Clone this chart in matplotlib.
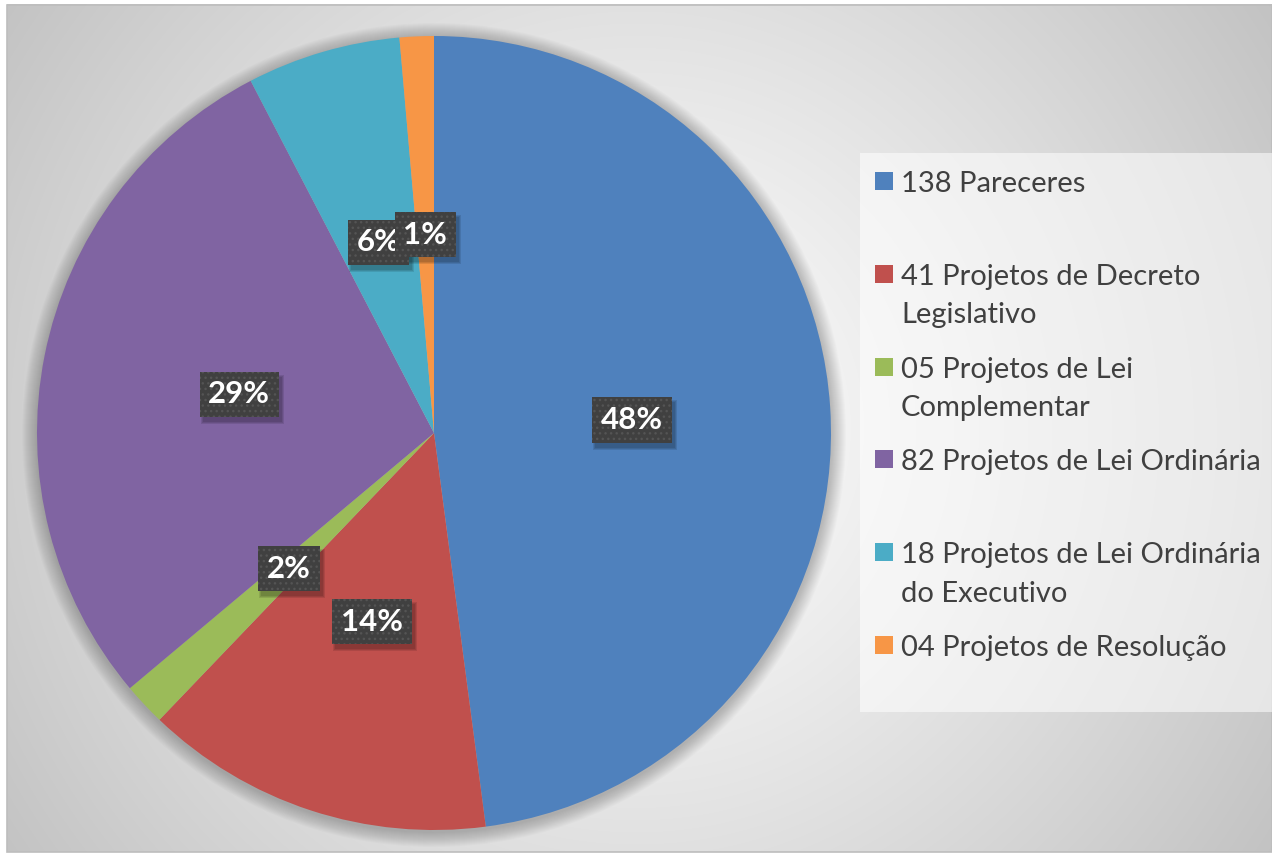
import numpy as np
import matplotlib
matplotlib.use("Agg")
import matplotlib.pyplot as plt
from matplotlib.patches import Rectangle, Circle

# ---- data ----
categories = ["138 Pareceres",
              "41 Projetos de Decreto\nLegislativo",
              "05 Projetos de Lei\nComplementar",
              "82 Projetos de Lei Ordinária",
              "18 Projetos de Lei Ordinária\ndo Executivo",
              "04 Projetos de Resolução"]
values = [138, 41, 5, 82, 18, 4]
pct_labels = ["48%", "14%", "2%", "29%", "6%", "1%"]
colors = ["#4F81BD", "#C0504D", "#9BBB59", "#8064A2", "#4BACC6", "#F79646"]

W, H = 1272, 855
fig = plt.figure(figsize=(W / 100, H / 100), dpi=100, facecolor="white")
ax = fig.add_axes([0, 0, 1, 1])
ax.set_xlim(0, W)
ax.set_ylim(0, H)

# ---- background radial gradient ----
x0, x1, y0, y1 = 7, W, 3, 850
yy, xx = np.mgrid[0:(y1 - y0), 0:(x1 - x0)]
cx, cy = 636 - x0, 428 - (H - y1)
r = np.hypot(xx - cx, yy - cy)
v = (255 - 60 * (r / 760.0) ** 1.15) / 255.0
v = np.clip(v, 0, 1)
img = np.dstack([v, v, v])
ax.imshow(img, extent=(x0, x1, y0, y1), origin="upper", zorder=0,
          interpolation="bilinear", aspect="auto")
ax.add_patch(Rectangle((x0, y0), x1 - x0, y1 - y0, fill=False,
                       ec="#bdbdbd", lw=1.2, zorder=1))

# ---- pie ----
center = (434, 422)
radius = 397
for k in range(1, 16):
    ax.add_patch(Circle((center[0], center[1] - 2), radius + k,
                        fc="black", ec="none", alpha=0.016, zorder=1.5))

it = iter(pct_labels)
wedges, texts, autotexts = ax.pie(
    values, colors=colors, startangle=90, counterclock=False,
    center=center, radius=radius, autopct=lambda p: next(it),
    pctdistance=0.5, wedgeprops=dict(linewidth=0, zorder=2),
    textprops=dict(color="white", fontsize=22.5, fontweight="bold",
                   family="Lato"))

for t in autotexts:
    t.set_zorder(6)
    t.set_ha("center")
    t.set_va("center")
    t.set_bbox(dict(boxstyle="square,pad=0.28", fc="#404040",
                    ec="#545454", lw=0, hatch="..."))

ax.set_xlim(0, W)
ax.set_ylim(0, H)
ax.set_aspect("auto")
ax.axis("off")

# shadows under the label boxes (patches, sized from the drawn boxes)
fig.canvas.draw()
inv = ax.transData.inverted()
for t in autotexts:
    bb = t.get_bbox_patch().get_window_extent()
    (dx0, dy0), (dx1, dy1) = inv.transform([(bb.x0, bb.y0), (bb.x1, bb.y1)])
    for k, a in enumerate([0.10, 0.10, 0.10]):
        ax.add_patch(Rectangle((dx0 + 3 - k, dy0 - 5 - k),
                               (dx1 - dx0) + 2 * k, (dy1 - dy0) + 2 * k,
                               fc="black", ec="none", alpha=a, zorder=5))

# ---- legend (manual, Office style slots) ----
lx0, lx1 = 860, W
ly_top, ly_bot = H - 153, H - 712
ax.add_patch(Rectangle((lx0, ly_bot), lx1 - lx0, ly_top - ly_bot,
                       fc="white", ec="none", alpha=0.55, zorder=3))
slot = 92.8
first_center = H - 181
line_gap = 38.5
for i, (lab, col) in enumerate(zip(categories, colors)):
    yc = first_center - i * slot
    ax.add_patch(Rectangle((875, yc - 9), 18, 18, fc=col, ec="none",
                           zorder=4))
    for j, line in enumerate(lab.split("\n")):
        ax.text(901, yc - 11 - j * line_gap, line, ha="left",
                va="baseline", fontsize=21, color="#404040",
                family="Lato", zorder=4)

fig.savefig("out.png", dpi=100, facecolor="white")
